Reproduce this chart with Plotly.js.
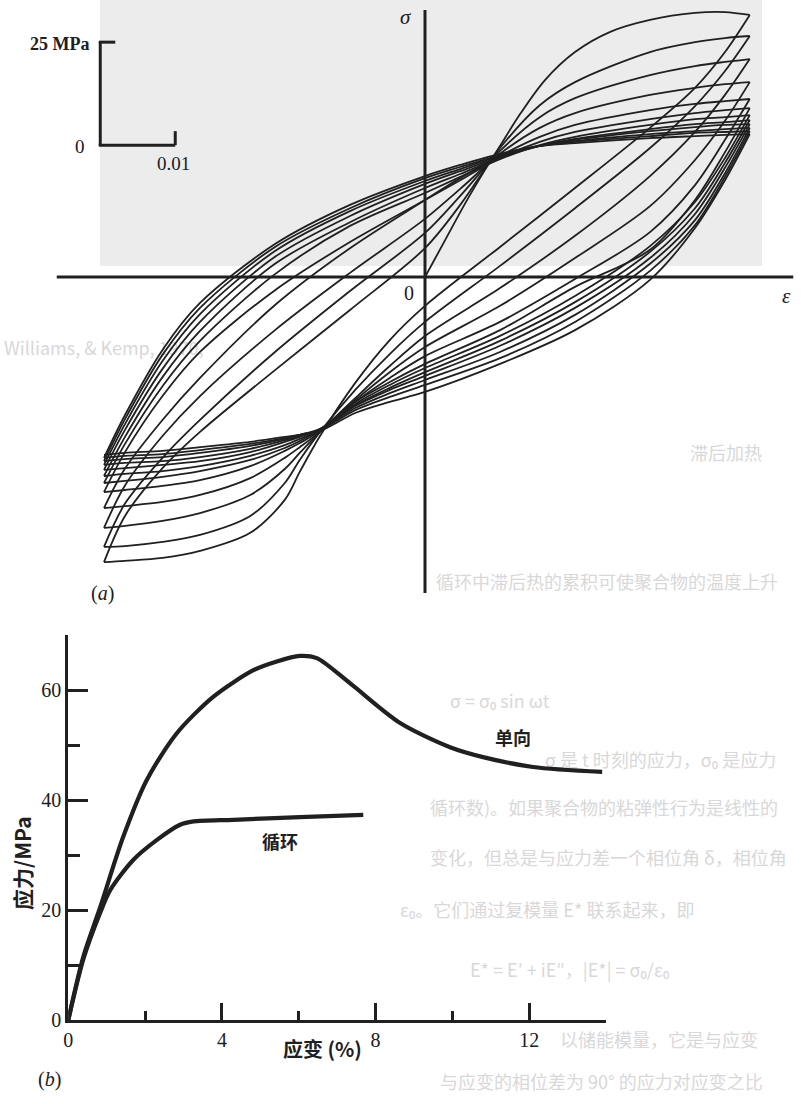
<!DOCTYPE html>
<html><head><meta charset="utf-8">
<script src="https://cdn.plot.ly/plotly-3.0.1.min.js"></script>
<style>html,body{margin:0;padding:0;background:#fff}#chart{width:801px;height:1104px}</style>
</head><body><div id="chart"></div>
<script>
// ================= Chart (a): cyclic hysteresis loops (strain, stress / MPa) =================
const initialStrain = [0, 0.0027, 0.0053, 0.0080, 0.0100, 0.0127, 0.0160, 0.0200, 0.0247, 0.0300, 0.0360, 0.0400, 0.0433];
const initialStress = [0, 9.0, 17.7, 26.0, 31.8, 39.6, 47.8, 54.6, 59.5, 62.4, 64.1, 64.3, 63.6];

const loadingStrain = [-0.0428, -0.040, -0.035, -0.030, -0.020, -0.010, 0, 0.0047, 0.010, 0.0153, 0.020, 0.030, 0.036, 0.040, 0.0433];
const loadingStress = [
  [-69.2, -58.0, -46.4, -37.6, -22.6, -8.0, 7.0, 17.5, 31.3, 41.7, 47.3, 54.6, 57.0, 58.0, 58.5],
  [-65.5, -55.0, -43.9, -34.7, -18.2, -3.4, 10.7, 19.7, 30.6, 38.8, 43.4, 49.0, 51.2, 52.2, 52.9],
  [-60.9, -50.6, -38.6, -28.9, -12.9, 1.0, 14.1, 21.4, 29.9, 36.2, 39.8, 44.2, 45.9, 46.8, 47.3],
  [-56.1, -46.5, -34.7, -24.5, -6.8, 7.0, 18.7, 24.0, 29.4, 34.0, 36.9, 40.5, 42.0, 42.7, 43.2],
  [-52.2, -42.5, -28.9, -18.2, -3.2, 8.5, 18.7, 23.5, 28.9, 32.8, 35.2, 38.3, 39.8, 40.5, 41.0],
  [-50.0, -40.5, -26.5, -15.5, 0.7, 12.4, 20.4, 24.3, 28.6, 32.0, 34.0, 36.9, 38.3, 38.8, 39.3],
  [-48.3, -38.8, -24.3, -13.1, 3.2, 13.3, 21.6, 25.0, 28.9, 31.8, 33.5, 35.9, 37.1, 37.6, 38.1],
  [-46.8, -37.1, -22.3, -10.9, 4.9, 14.8, 22.6, 25.7, 29.1, 31.8, 33.3, 35.4, 36.4, 36.9, 37.1],
  [-45.6, -35.7, -20.4, -9.0, 6.3, 16.0, 23.3, 26.2, 29.4, 31.8, 33.0, 34.7, 35.4, 35.9, 36.2],
  [-44.7, -34.5, -18.9, -7.5, 7.3, 16.7, 24.0, 26.7, 29.6, 31.8, 32.8, 34.2, 35.0, 35.2, 35.4],
  [-43.9, -33.5, -17.7, -6.3, 8.0, 17.5, 24.5, 27.2, 29.9, 31.8, 32.5, 33.7, 34.2, 34.5, 34.7]
];

const unloadingStrain = [0.0433, 0.040, 0.036, 0.030, 0.020, 0.010, 0, -0.0047, -0.0093, -0.014, -0.0167, -0.0187, -0.0233, -0.030, -0.035, -0.040, -0.0428];
const unloadingStress = [
  [63.6, 54.6, 45.9, 36.2, 21.6, 7.3, -7.0, -15.3, -25.7, -38.6, -47.3, -54.1, -62.1, -66.5, -68.2, -68.9, -69.2],
  [58.5, 50.0, 41.5, 31.3, 16.7, 2.7, -10.9, -18.7, -27.4, -37.6, -44.4, -50.0, -58.0, -62.6, -64.3, -65.3, -65.5],
  [52.9, 44.2, 35.2, 24.5, 10.0, -2.7, -14.3, -21.6, -29.4, -37.6, -42.7, -46.6, -52.9, -57.3, -59.2, -60.4, -60.9],
  [47.3, 37.9, 28.4, 17.2, 4.6, -7.0, -17.0, -23.1, -29.9, -37.6, -41.3, -43.9, -48.8, -52.9, -54.6, -55.6, -56.1],
  [43.2, 33.3, 22.3, 10.9, -0.5, -10.9, -19.2, -24.5, -30.3, -37.4, -40.3, -42.2, -45.9, -49.3, -50.7, -51.7, -52.2],
  [41.0, 30.3, 18.7, 6.6, -2.4, -12.9, -21.1, -25.5, -30.3, -37.1, -39.8, -41.5, -44.4, -47.1, -48.5, -49.5, -50.0],
  [39.3, 28.9, 18.2, 7.5, -4.6, -14.3, -22.1, -26.2, -30.8, -37.1, -39.3, -40.8, -43.4, -45.9, -47.1, -47.8, -48.3],
  [38.1, 27.7, 16.7, 6.1, -6.1, -15.5, -23.1, -26.9, -31.1, -36.9, -38.8, -40.0, -42.5, -44.7, -45.6, -46.4, -46.8],
  [37.1, 26.5, 15.3, 4.6, -7.5, -16.7, -24.0, -27.4, -31.3, -36.9, -38.6, -39.6, -41.7, -43.7, -44.7, -45.1, -45.6],
  [36.2, 25.2, 13.8, 3.2, -9.2, -18.2, -25.0, -28.2, -31.8, -36.9, -38.3, -39.3, -41.0, -42.7, -43.7, -44.2, -44.7],
  [35.4, 24.3, 12.6, 1.5, -10.9, -19.7, -26.2, -29.1, -32.3, -37.1, -38.3, -39.1, -40.5, -42.0, -43.0, -43.4, -43.9],
  [34.7, 23.5, 11.9, -0.7, -12.9, -21.1, -27.9, -30.3, -33.0, -37.4, -38.3, -38.8, -40.0, -41.3, -42.2, -42.7, -43.2]
];

// scale bar of chart (a)
const scaleOrigin = [-0.0433, 32.0];   // strain, stress at the corner of the bar
const scaleStress = 25;                 // MPa
const scaleStrain = 0.01;
const scaleLabels = ['25 MPa', '0', '0.01'];

// ================= Chart (b): stress-strain curves =================
const monoStrain = [0, 0.39, 0.83, 1.43, 2.04, 2.82, 3.78, 4.82, 5.43, 6.03, 6.47, 7.34, 8.64, 9.94, 10.8, 12.1, 13.9];
const monoStress = [0, 11.5, 20.5, 33.3, 43.6, 52.1, 58.8, 63.6, 65.2, 66.2, 65.8, 61.2, 54.0, 49.6, 47.8, 46.0, 45.1];
const cyclicStrain = [0, 0.39, 0.83, 1.09, 1.69, 2.30, 2.91, 3.26, 4.30, 6.03, 7.68];
const cyclicStress = [0, 11.0, 19.5, 23.6, 29.1, 32.7, 35.5, 36.1, 36.4, 36.9, 37.3];
const seriesNames = ['单向', '循环'];
const axisTitles = ['应变 (%)', '应力/MPa'];

const xTickVals = [0, 4, 8, 12];
const xTickText = ['0', '4', '8', '12'];
const xMinorVals = [2, 6, 10, 14];
const yTickVals = [0, 20, 40, 60];
const yTickText = ['0', '20', '40', '60'];
const yMinorVals = [10, 30, 50];

// faint show-through text of the scanned page (only the legible parts)
const bleedX = [4, 690, 436, 450, 545, 430, 430, 400, 470, 560, 440];
const bleedY = [350, 455, 584, 703, 762, 810, 860, 912, 972, 1042, 1084];
const bleedText = [
  'Williams, & Kemp, 1970,',
  '滞后加热',
  '循环中滞后热的累积可使聚合物的温度上升',
  'σ = σ₀ sin ωt',
  'σ 是 t 时刻的应力，σ₀ 是应力',
  '循环数)。如果聚合物的粘弹性行为是线性的',
  '变化，但总是与应力差一个相位角 δ，相位角',
  'ε₀。它们通过复模量 E* 联系起来，即',
  'E* = E′ + iE″，|E*| = σ₀/ε₀',
  '以储能模量，它是与应变',
  '与应变的相位差为 90° 的应力对应变之比'
];

// ================= build =================
const W = 801, H = 1104;
const INK = '#202020';
const SERIF = '"Liberation Serif", "DejaVu Serif", serif';
const CJK = '"Noto Sans CJK SC", "Noto Sans", sans-serif';

const traces = [];
traces.push({x: bleedX, y: bleedY, text: bleedText, mode: 'text', textposition: 'middle right',
  textfont: {family: CJK, size: 18, color: '#d8d8d8'}, xaxis: 'x', yaxis: 'y', hoverinfo: 'skip'});

const loopLine = {color: INK, width: 1.8, shape: 'spline', smoothing: 0.9};
traces.push({x: initialStrain, y: initialStress, mode: 'lines', line: loopLine, xaxis: 'x2', yaxis: 'y2'});
loadingStress.forEach(s => traces.push({x: loadingStrain, y: s, mode: 'lines', line: loopLine, xaxis: 'x2', yaxis: 'y2'}));
unloadingStress.forEach(s => traces.push({x: unloadingStrain, y: s, mode: 'lines', line: loopLine, xaxis: 'x2', yaxis: 'y2'}));

const bLine = {color: INK, width: 4.2, shape: 'spline', smoothing: 0.8};
traces.push({x: monoStrain, y: monoStress, name: seriesNames[0], mode: 'lines', line: bLine, xaxis: 'x3', yaxis: 'y3'});
traces.push({x: cyclicStrain, y: cyclicStress, name: seriesNames[1], mode: 'lines', line: bLine, xaxis: 'x3', yaxis: 'y3'});

const seg = (x0, y0, x1, y1, w) => ({type: 'line', xref: 'x2', yref: 'y2', x0, y0, x1, y1, line: {color: INK, width: w}});
const [sx, sy] = scaleOrigin;
const shapes = [
  {type: 'rect', xref: 'paper', yref: 'paper', layer: 'below', x0: 100 / W, x1: 762 / W, y0: 1 - 266 / H, y1: 1,
   fillcolor: '#ececec', line: {width: 0}},
  seg(-0.0491, 0, 0.0491, 0, 3),       // epsilon axis
  seg(0, -76.7, 0, 64.8, 3),           // sigma axis
  seg(sx, sy, sx, sy + scaleStress, 3),
  seg(sx - 0.0002, sy + scaleStress, sx + 0.002, sy + scaleStress, 3),
  seg(sx - 0.0002, sy, sx + scaleStrain, sy, 3),
  seg(sx + scaleStrain, sy, sx + scaleStrain, sy + 3.4, 3)
];

const ann = (text, x, y, font, extra) => Object.assign({text, x: x / W, y: 1 - y / H, xref: 'paper', yref: 'paper',
  showarrow: false, xanchor: 'center', yanchor: 'middle', font: Object.assign({family: SERIF, size: 20, color: INK}, font)}, extra || {});
const annotations = [
  ann('<i>σ</i>', 406, 17, {size: 21}),
  ann('0', 409, 293, {size: 20}),
  ann('<i>ε</i>', 786, 296, {size: 21}),
  ann('(<i>a</i>)', 102, 594, {size: 20}),
  ann('<b>' + scaleLabels[0] + '</b>', 91, 44, {size: 18}, {xanchor: 'right'}),
  ann(scaleLabels[1], 80, 147, {size: 19}),
  ann(scaleLabels[2], 173, 163, {size: 19}),
  ann(seriesNames[0], 513, 737, {family: CJK, size: 18, weight: 700}),
  ann(seriesNames[1], 280, 841, {family: CJK, size: 18, weight: 700}),
  ann(axisTitles[0], 322, 1048, {family: CJK, size: 20, weight: 700}),
  ann(axisTitles[1], 22, 863, {family: CJK, size: 21, weight: 700}, {textangle: -90}),
  ann('(<i>b</i>)', 49, 1079, {size: 20})
];

const axB = {
  showline: true, linecolor: INK, linewidth: 3, ticks: 'inside', tickcolor: INK, tickwidth: 3,
  showgrid: false, zeroline: false, tickmode: 'array', fixedrange: true,
  tickfont: {family: SERIF, size: 20, color: INK}
};

const layout = {
  width: W, height: H, margin: {l: 0, r: 0, t: 0, b: 0}, autosize: false, showlegend: false,
  paper_bgcolor: '#ffffff', plot_bgcolor: 'rgba(0,0,0,0)',
  xaxis: {domain: [0, 1], range: [0, W], visible: false, anchor: 'y'},
  yaxis: {domain: [0, 1], range: [H, 0], visible: false, anchor: 'x'},
  xaxis2: {domain: [0, 1], range: [-425 / 7500, 376 / 7500], visible: false, anchor: 'y2'},
  yaxis2: {domain: [1 - 610 / H, 1], range: [(277 - 610) / 4.12, 277 / 4.12], visible: false, anchor: 'x2'},
  xaxis3: Object.assign({}, axB, {domain: [68.3 / W, 606 / W], range: [0, 14], anchor: 'y3',
    tickvals: xTickVals, ticktext: xTickText, ticklen: 17,
    minor: {tickmode: 'array', tickvals: xMinorVals, ticks: 'inside', ticklen: 9, tickwidth: 3, tickcolor: INK, showgrid: false}}),
  yaxis3: Object.assign({}, axB, {domain: [1 - 1020 / H, 1 - 635 / H], range: [0, 70], anchor: 'x3',
    tickvals: yTickVals, ticktext: yTickText, ticklen: 20,
    minor: {tickmode: 'array', tickvals: yMinorVals, ticks: 'inside', ticklen: 12, tickwidth: 3, tickcolor: INK, showgrid: false}}),
  shapes, annotations
};

Plotly.newPlot('chart', traces, layout, {staticPlot: true, displayModeBar: false});
</script></body></html>
